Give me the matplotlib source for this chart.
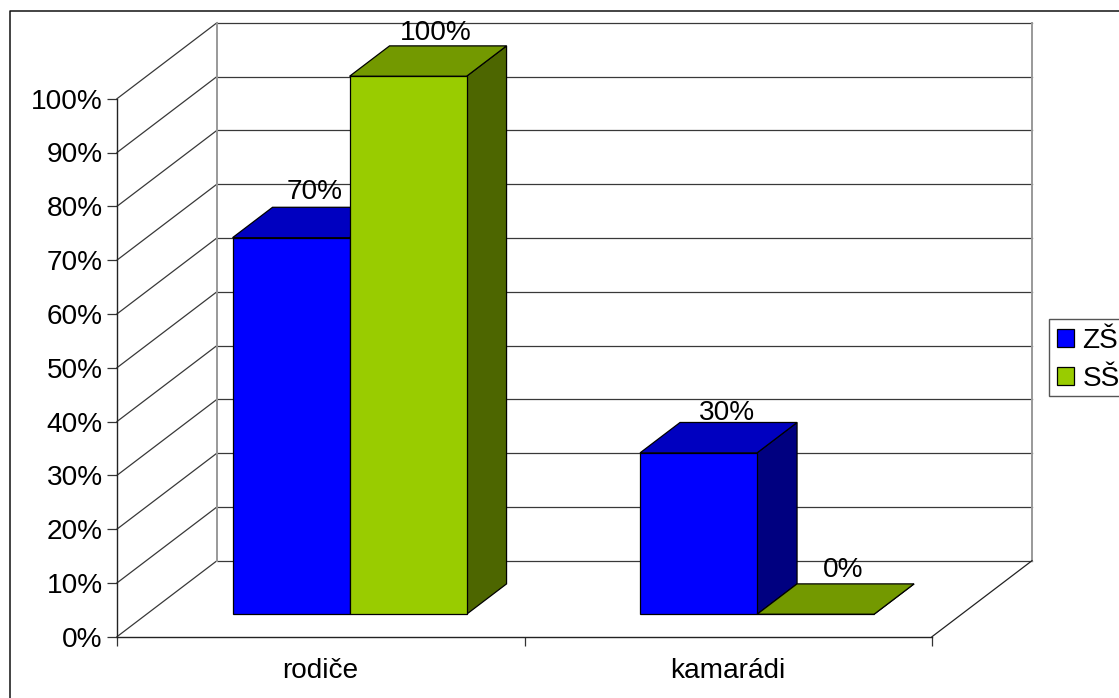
import matplotlib
matplotlib.use("Agg")
import matplotlib.pyplot as plt
from matplotlib.lines import Line2D
from matplotlib.patches import Patch, Polygon, Rectangle

plt.rcParams['font.family'] = ['Liberation Sans', 'DejaVu Sans']

categories = ['rodiče', 'kamarádi']
series_names = ['ZŠ', 'SŠ']
zs_values = [70, 30]
ss_values = [100, 0]
y_ticks = [0, 10, 20, 30, 40, 50, 60, 70, 80, 90, 100]

face_colors = ['#0000FF', '#99CC00']
top_colors = ['#0000C0', '#739900']
side_colors = ['#000080', '#4D6600']

W, H = 1119, 698
FS = 20.2
fig = plt.figure(figsize=(W / 100, H / 100), dpi=100, facecolor='white')

# axes = front plane of the pseudo-3D chart
L, R, B, T = 117, 932, 636.7, 98.7
ax = fig.add_axes([L / W, 1 - B / H, (R - L) / W, (B - T) / H])
ax.set_xlim(0, len(categories))
ax.set_ylim(0, 100)
ax.patch.set_alpha(0)

px_x = (R - L) / len(categories)
px_y = (B - T) / 100
DX = 100 / px_x   # full-depth shift in x data units
DY = 76 / px_y    # full-depth shift in y data units


def proj(x, y, z):
    return (x + DX * z, y + DY * z)


GRID = '#383838'
# back wall and side wall gridlines
for v in y_ticks:
    x0, y0 = proj(0, v, 0)
    x1, y1 = proj(0, v, 1)
    x2, y2 = proj(len(categories), v, 1)
    ax.plot([x0, x1], [y0, y1], color=GRID, lw=0.9, clip_on=False, zorder=1)
    ax.plot([x1, x2], [y1, y2], color=GRID, lw=0.9, clip_on=False, zorder=1)
for xc in (0, len(categories)):
    p = [proj(xc, 0, 1), proj(xc, 100, 1)]
    ax.plot(*zip(*p), color='#999999', lw=1.4, clip_on=False, zorder=1)
p = [proj(len(categories), 0, 0), proj(len(categories), 0, 1)]
ax.plot(*zip(*p), color='#222222', lw=0.9, clip_on=False, zorder=1)

# bars
BAR_W = 117.0 / px_x
Z0, ZD = 0.295, 0.40
# pixel offset of each value label from the bar's top front centre
label_offsets = {(0, 0): (24, 46), (0, 1): (28, 40), (1, 0): (28, 43), (1, 1): (28, 44)}
z = 2
for s, values in enumerate([zs_values, ss_values]):
    for c, v in enumerate(values):
        x0 = c + 0.5 + (s - 1) * BAR_W - 0.7 / px_x
        x1 = x0 + BAR_W
        a = Z0
        b = Z0 + ZD
        front = [proj(x0, 0, a), proj(x1, 0, a), proj(x1, v, a), proj(x0, v, a)]
        top = [proj(x0, v, a), proj(x1, v, a), proj(x1, v, b), proj(x0, v, b)]
        side = [proj(x1, 0, a), proj(x1, 0, b), proj(x1, v, b), proj(x1, v, a)]
        kw = dict(edgecolor='black', lw=0.9, clip_on=False, zorder=z, joinstyle='miter')
        ax.add_patch(Polygon(side, closed=True, facecolor=side_colors[s], **kw))
        ax.add_patch(Polygon(top, closed=True, facecolor=top_colors[s], **kw))
        ax.add_patch(Polygon(front, closed=True, facecolor=face_colors[s], **kw))
        z += 1
        ox, oy = label_offsets[(s, c)]
        ax.annotate(f'{v}%', xy=proj((x0 + x1) / 2, v, a), xytext=(ox * 0.72, oy * 0.72),
                    textcoords='offset points', ha='center', va='center',
                    fontsize=FS, color='black', zorder=20, annotation_clip=False)

# axes lines, ticks and labels
for sp in ('top', 'right'):
    ax.spines[sp].set_visible(False)
for sp in ('left', 'bottom'):
    ax.spines[sp].set_linewidth(1.0)
    ax.spines[sp].set_color('#222222')
    ax.spines[sp].set_zorder(10)
ax.set_yticks(y_ticks)
ax.set_yticklabels([f'{v}%' for v in y_ticks], fontsize=FS)
ax.tick_params(axis='y', length=7.2, width=0.9, pad=3.0, color='#333333')
ax.set_xticks(range(len(categories) + 1))
ax.set_xticklabels([''] * (len(categories) + 1))
ax.tick_params(axis='x', which='major', length=6.5, width=0.9, color='#333333')
ax.set_xticks([i + 0.5 - 1 / px_x for i in range(len(categories))], minor=True)
ax.set_xticklabels(categories, minor=True, fontsize=FS)
ax.tick_params(axis='x', which='minor', length=0, pad=15)

# legend: the box is drawn apart because it is tighter than the text rows
fig.add_artist(Rectangle((1049 / W, 1 - 396 / H), 100 / W, 76.7 / H, transform=fig.transFigure,
                         facecolor='white', edgecolor='#555555', lw=1.0, zorder=5))
handles = [Patch(facecolor=face_colors[i], edgecolor='black', lw=0.9, label=series_names[i])
           for i in range(2)]
leg = fig.legend(handles=handles, loc='upper left',
                 bbox_to_anchor=(1056.5 / W, 1 - 327.5 / H), borderaxespad=0,
                 fontsize=FS, frameon=False, handlelength=0.62, handleheight=0.62,
                 handletextpad=0.3, labelspacing=0.44, borderpad=0)
leg.set_zorder(6)

# chart border: left and top edges only are inside the picture
fig.add_artist(Line2D([10 / W, 10 / W, 1], [0, 1 - 11 / H, 1 - 11 / H],
                      color='#111111', lw=1.1, transform=fig.transFigure))

fig.savefig('out.png', dpi=100, facecolor='white')
